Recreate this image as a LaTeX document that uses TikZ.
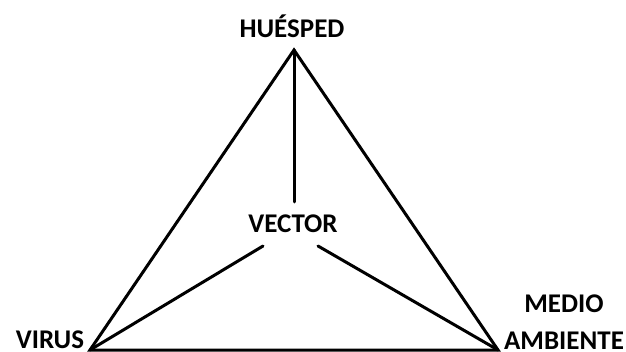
\documentclass[tikz,border=0pt]{standalone}
\usepackage{fontspec}
\setmainfont{Carlito}
\begin{document}
\begin{tikzpicture}[x=1pt,y=-1pt,
  lbl/.style={font=\fontsize{27}{37}\selectfont\bfseries, text=black, inner sep=0pt, align=center},
  edge/.style={line width=3pt, line cap=round, line join=miter}]
\useasboundingbox (0,0) rectangle (626,352);
\coordinate (apex) at (294,50);
\coordinate (L) at (90,350);
\coordinate (R) at (498,350);
\coordinate (vt) at (294,202);
\coordinate (vl) at (263,246);
\coordinate (vr) at (318,246);
\node[lbl] (hue) at (292,26) {HUÉSPED};
\node[lbl] (vec) at (293,224) {VECTOR};
\node[lbl] (vir) at (50,340) {VIRUS};
\node[lbl] (med) at (564,322) {MEDIO\\AMBIENTE};
\draw[edge] (L) -- (apex) -- (R) -- cycle;
\draw[edge] (apex) -- (vt);
\draw[edge] (vl) -- (L);
\draw[edge] (vr) -- (R);
\end{tikzpicture}
\end{document}
